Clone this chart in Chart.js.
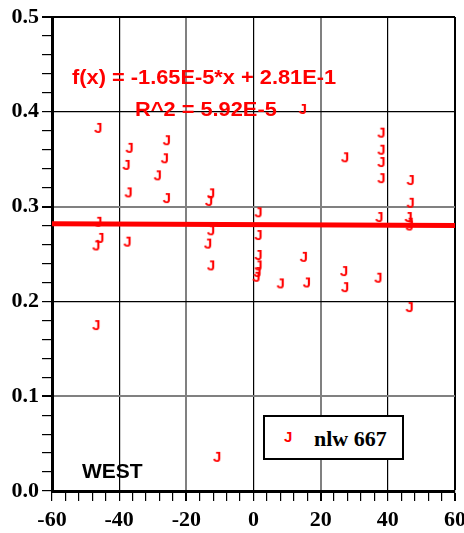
<!DOCTYPE html>
<html>
<head>
<meta charset="utf-8">
<script src="https://cdn.jsdelivr.net/npm/chart.js@4"></script>
<style>
  html,body{margin:0;padding:0;background:#fff;}
  #wrap{position:relative;width:464px;height:533px;}
  #c{position:absolute;left:0;top:0;}
  .lbl{position:absolute;white-space:nowrap;font-family:"Liberation Sans",Arial,sans-serif;font-weight:bold;line-height:1;}
  .red{color:#ff0000;}
  .wide{transform:scaleX(1.09);transform-origin:0 0;}
  #legend{position:absolute;left:263px;top:415px;width:137px;height:41px;border:2px solid #000;background:#fff;}
</style>
</head>
<body>
<div id="wrap">
  <canvas id="c" width="464" height="533"></canvas>
  <div class="lbl red wide" style="left:72px;top:67px;font-size:20px;">f(x) = -1.65E-5*x + 2.81E-1</div>
  <div class="lbl red wide" style="left:135px;top:99px;font-size:20px;">R^2 = 5.92E-5</div>
  <div class="lbl" style="left:82px;top:460px;font-size:21px;">WEST</div>
  <div id="legend">
    <span class="lbl red" style="left:19px;top:12px;font-size:15px;">J</span>
    <span class="lbl" style="left:49px;top:11px;font-size:22px;font-family:'Liberation Serif','Times New Roman',serif;">nlw 667</span>
  </div>
</div>
<script>
// data
const seriesName='nlw 667';
const xs=[-46.2,-36.9,-25.8,-37.8,-26.4,-28.5,-37.2,-25.8,-46.2,-45.6,-46.8,-37.5,-46.8,
  -12.6,-13.2,-12.6,-13.5,-12.6,1.5,1.5,1.5,1.5,1.2,0.9,8.1,15.0,15.9,14.7,
  27.3,27.0,27.3,38.1,38.1,38.1,38.1,37.5,37.2,46.8,46.8,46.2,46.5,46.5,46.5,-10.8];
const ys=[0.383,0.362,0.370,0.344,0.351,0.333,0.315,0.309,0.284,0.267,0.259,0.263,0.175,
  0.314,0.306,0.275,0.261,0.238,0.294,0.270,0.249,0.238,0.231,0.226,0.219,0.247,0.220,0.403,
  0.352,0.232,0.215,0.378,0.360,0.347,0.330,0.289,0.225,0.328,0.304,0.289,0.283,0.280,0.194,0.036];
const fitSlope=-1.65e-5, fitIntercept=0.281;
const xRange=[-60,60], yRange=[0,0.5];

// "J" marker
const mk=document.createElement('canvas');
mk.width=16;mk.height=16;
const mctx=mk.getContext('2d');
mctx.fillStyle='#ff0000';
mctx.font='bold 15px "Liberation Sans", Arial, sans-serif';
mctx.textAlign='center';mctx.textBaseline='middle';
mctx.fillText('J',8,9);

const pts=xs.map((x,i)=>({x:x,y:ys[i]}));
const fit=xRange.map(x=>({x:x,y:fitSlope*x+fitIntercept}));

const near=(v,s)=>Math.abs(v/s-Math.round(v/s))<1e-6;
const tickFont={family:'"Liberation Serif","Times New Roman",serif',size:22,weight:'bold'};

function xGridColor(c){
  const v=c.tick&&c.tick.value;
  if(v===undefined) return 'rgba(0,0,0,0)';
  if(v===60) return '#000';
  if(v===-40||v===0||v===40) return '#000';
  if(v===-20||v===20) return '#808080';
  return 'rgba(0,0,0,0)';
}
function yGridColor(c){
  const v=c.tick&&c.tick.value;
  if(v===undefined) return 'rgba(0,0,0,0)';
  if(Math.abs(v-0.5)<1e-6) return '#000';
  if(Math.abs(v-0.2)<1e-6||Math.abs(v-0.4)<1e-6) return '#000';
  if(Math.abs(v-0.1)<1e-6||Math.abs(v-0.3)<1e-6) return '#808080';
  return 'rgba(0,0,0,0)';
}

new Chart(document.getElementById('c'),{
  type:'scatter',
  data:{datasets:[
    {label:'fit',type:'line',data:fit,borderColor:'#ff0000',borderWidth:5,pointRadius:0,fill:false,order:2},
    {label:seriesName,data:pts,pointStyle:mk,pointRadius:8,order:1}
  ]},
  options:{
    responsive:false,animation:false,
    layout:{padding:{top:17,right:7,left:0,bottom:0}},
    plugins:{legend:{display:false},tooltip:{enabled:false}},
    scales:{
      x:{type:'linear',min:xRange[0],max:xRange[1],
        ticks:{stepSize:4,autoSkip:false,maxRotation:0,color:'#000',font:tickFont,padding:6,
          callback:v=>near(v,20)?String(v):''},
        grid:{color:xGridColor,tickColor:'#000',tickLength:10,
          lineWidth:c=>{const v=c.tick&&c.tick.value;return (v===-20||v===20)?2:(v===60?2:1.2);}},
        border:{color:'#000',width:3},
        afterFit:s=>{s.height=42;s.paddingLeft=0;s.paddingRight=0;}
      },
      y:{type:'linear',min:yRange[0],max:yRange[1],
        ticks:{stepSize:0.02,autoSkip:false,color:'#000',font:tickFont,padding:3,
          callback:v=>near(v,0.1)?v.toFixed(1):''},
        grid:{color:yGridColor,tickColor:'#000',tickLength:10,
          lineWidth:c=>{const v=c.tick&&c.tick.value;return (Math.abs(v-0.1)<1e-6||Math.abs(v-0.3)<1e-6)?2:(Math.abs(v-0.5)<1e-6?2:1.2);}},
        border:{color:'#000',width:3},
        afterFit:s=>{s.width=52;s.paddingTop=0;s.paddingBottom=0;}
      }
    }
  }
});
</script>
</body>
</html>
